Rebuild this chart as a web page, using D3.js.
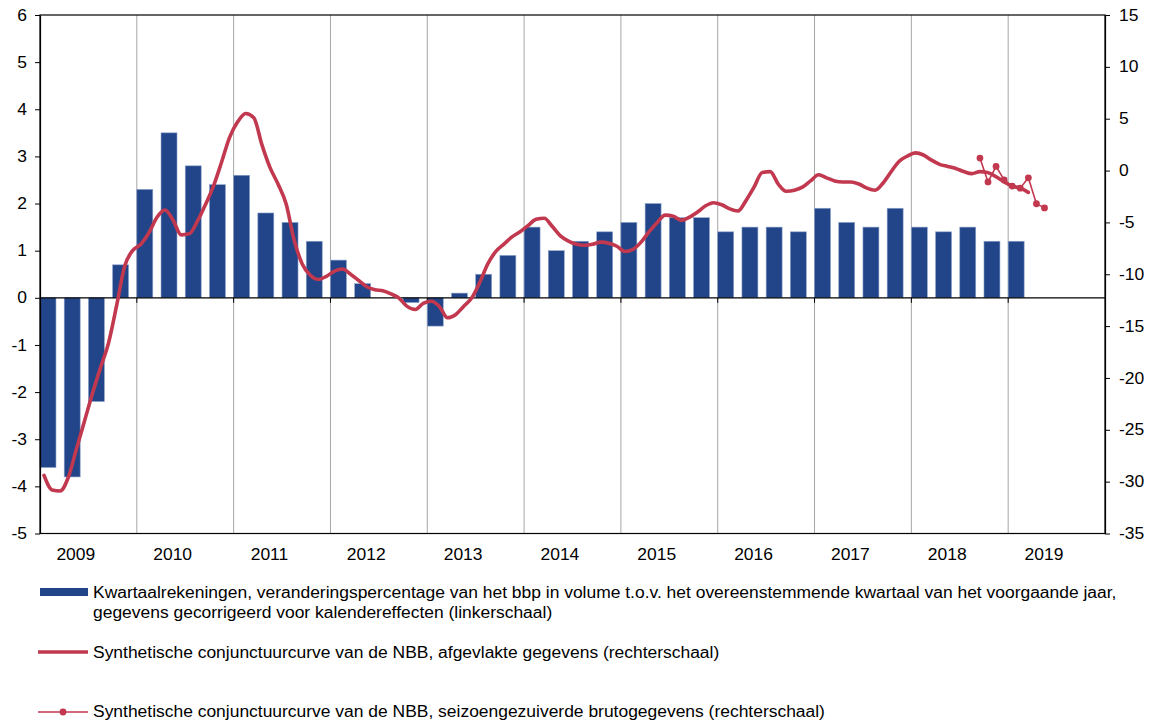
<!DOCTYPE html>
<html>
<head>
<meta charset="utf-8">
<script src="https://cdn.jsdelivr.net/npm/d3@7"></script>
<style>
  html, body { margin: 0; padding: 0; background: #fff; }
  svg { display: block; }
  text { font-family: "Liberation Sans", Arial, sans-serif; fill: #000; }
</style>
</head>
<body>
<svg id="chart" width="1154" height="724"></svg>
<script>
// ---------------- DATA ----------------
const years = [2009, 2010, 2011, 2012, 2013, 2014, 2015, 2016, 2017, 2018, 2019];

// Quarterly GDP growth (y-o-y, %), left axis, 2009Q1 .. 2019Q1
const quarters = [
  "2009Q1","2009Q2","2009Q3","2009Q4",
  "2010Q1","2010Q2","2010Q3","2010Q4",
  "2011Q1","2011Q2","2011Q3","2011Q4",
  "2012Q1","2012Q2","2012Q3","2012Q4",
  "2013Q1","2013Q2","2013Q3","2013Q4",
  "2014Q1","2014Q2","2014Q3","2014Q4",
  "2015Q1","2015Q2","2015Q3","2015Q4",
  "2016Q1","2016Q2","2016Q3","2016Q4",
  "2017Q1","2017Q2","2017Q3","2017Q4",
  "2018Q1","2018Q2","2018Q3","2018Q4",
  "2019Q1"
];
const gdpGrowth = [
  -3.6, -3.8, -2.2, 0.7,
   2.3,  3.5,  2.8, 2.4,
   2.6,  1.8,  1.6, 1.2,
   0.8,  0.3,  0.0, -0.1,
  -0.6,  0.1,  0.5, 0.9,
   1.5,  1.0,  1.2, 1.4,
   1.6,  2.0,  1.7, 1.7,
   1.4,  1.5,  1.5, 1.4,
   1.9,  1.6,  1.5, 1.9,
   1.5,  1.4,  1.5, 1.2,
   1.2
];

// NBB business barometer, smoothed, monthly 2009-01 .. 2019-03 (right axis)
const smoothStart = "2009-01";
const smoothed = [
  -29.4,-30.8,-30.9,-29.6,-26.9,-24.2,-21.5,-19.0,-16.6,-13.0,-9.2,-7.7,
  -7.1,-6.0,-4.5,-3.8,-4.8,-6.2,-6.1,-4.9,-3.3,-1.5,0.8,3.2,
  4.7,5.5,5.1,2.5,0.3,-1.3,-3.2,-6.7,-9.0,-10.1,-10.5,-10.2,
  -9.7,-9.5,-10.0,-10.6,-11.2,-11.5,-11.6,-11.9,-12.3,-13.1,-13.4,-12.8,
  -12.6,-13.1,-14.2,-13.9,-13.1,-12.3,-10.8,-9.0,-7.8,-7.1,-6.4,-5.9,
  -5.3,-4.7,-4.6,-5.4,-6.3,-6.8,-7.1,-7.2,-7.1,-6.9,-7.0,-7.3,
  -7.8,-7.6,-6.9,-5.9,-5.0,-4.3,-4.4,-4.8,-4.5,-4.0,-3.4,-3.1,
  -3.3,-3.7,-3.9,-2.9,-1.6,-0.2,-0.1,-1.3,-2.0,-1.9,-1.6,-1.0,
  -0.4,-0.7,-1.0,-1.1,-1.1,-1.3,-1.7,-1.9,-1.2,-0.1,0.9,1.4,
  1.7,1.5,1.0,0.6,0.4,0.2,-0.1,-0.3,-0.1,-0.2,-0.6,-1.1,
  -1.5,-1.7,-2.1
];

// NBB business barometer, seasonally adjusted raw data, monthly 2018-09 .. 2019-05
const rawStart = "2018-09";
const rawValues = [1.2, -1.1, 0.4, -0.9, -1.5, -1.7, -0.7, -3.2, -3.6];

const leftTicks = [-5,-4,-3,-2,-1,0,1,2,3,4,5,6];
const rightTicks = [-35,-30,-25,-20,-15,-10,-5,0,5,10,15];

const legendLabels = [
  ["Kwartaalrekeningen, veranderingspercentage van het bbp in volume t.o.v. het overeenstemmende kwartaal van het voorgaande jaar,",
   "gegevens gecorrigeerd voor kalendereffecten (linkerschaal)"],
  ["Synthetische conjunctuurcurve van de NBB, afgevlakte gegevens (rechterschaal)"],
  ["Synthetische conjunctuurcurve van de NBB, seizoengezuiverde brutogegevens (rechterschaal)"]
];

// ---------------- LAYOUT ----------------
const BLUE = "#22458a";
const RED = "#c1384f";
const GRID = "#a6a6a6";
const FONT = 16;
const STRETCH = 1.09; // glyphs in the reference are slightly wide
const plot = { left: 40, right: 1105, top: 15, bottom: 533.5 };

const svg = d3.select("#chart");

const x = d3.scaleLinear().domain([2009, 2020]).range([plot.left, plot.right]);
const yL = d3.scaleLinear().domain([-5, 6]).range([plot.bottom, plot.top]);
const yR = d3.scaleLinear().domain([-35, 15]).range([plot.bottom, plot.top]);

function monthTime(start, i) {
  const [yy, mm] = start.split("-").map(Number);
  const idx = (mm - 1) + i;
  return yy + (idx + 0.5) / 12;
}
function quarterTime(q) {
  return +q.slice(0, 4) + (+q.slice(5) - 1) / 4;
}

// vertical year gridlines
svg.append("g").selectAll("line")
  .data(years.slice(1))
  .join("line")
  .attr("x1", d => x(d)).attr("x2", d => x(d))
  .attr("y1", plot.top).attr("y2", plot.bottom)
  .attr("stroke", GRID).attr("stroke-width", 1);

// bars
const barW = (x(2009.25) - x(2009)) * 0.66;
svg.append("g").selectAll("rect")
  .data(quarters.map((q, i) => ({ q, v: gdpGrowth[i] })))
  .join("rect")
  .attr("x", d => x(quarterTime(d.q)))
  .attr("width", barW)
  .attr("y", d => yL(Math.max(0, d.v)))
  .attr("height", d => Math.abs(yL(d.v) - yL(0)))
  .attr("fill", BLUE)
  .attr("stroke", "#8fa3c9")
  .attr("stroke-width", 0.6);

// zero line with year ticks
svg.append("line")
  .attr("x1", plot.left).attr("x2", plot.right)
  .attr("y1", yL(0)).attr("y2", yL(0))
  .attr("stroke", "#000").attr("stroke-width", 1.2);
svg.append("g").selectAll("line")
  .data(years.slice(1))
  .join("line")
  .attr("x1", d => x(d)).attr("x2", d => x(d))
  .attr("y1", yL(0)).attr("y2", yL(0) + 5)
  .attr("stroke", "#000").attr("stroke-width", 1);

// plot frame
svg.append("rect")
  .attr("x", plot.left).attr("y", plot.top)
  .attr("width", plot.right - plot.left).attr("height", plot.bottom - plot.top)
  .attr("fill", "none").attr("stroke", "#000").attr("stroke-width", 1.2);

// smoothed line
const line = d3.line().x(d => x(d.t)).curve(d3.curveMonotoneX);
svg.append("path")
  .datum(smoothed.map((v, i) => ({ t: monthTime(smoothStart, i), v })))
  .attr("d", line.y(d => yR(d.v)))
  .attr("fill", "none").attr("stroke", RED).attr("stroke-width", 3.6)
  .attr("stroke-linejoin", "round").attr("stroke-linecap", "round");

// raw line with markers
const rawData = rawValues.map((v, i) => ({ t: monthTime(rawStart, i), v }));
svg.append("path")
  .datum(rawData)
  .attr("d", d3.line().x(d => x(d.t)).y(d => yR(d.v)))
  .attr("fill", "none").attr("stroke", RED).attr("stroke-width", 1.6);
svg.append("g").selectAll("circle")
  .data(rawData)
  .join("circle")
  .attr("cx", d => x(d.t)).attr("cy", d => yR(d.v))
  .attr("r", 3.4).attr("fill", RED);

// axes
const axL = svg.append("g").attr("transform", `translate(${plot.left},0)`)
  .call(d3.axisLeft(yL).tickValues(leftTicks).tickFormat(d3.format("d"))
    .tickSize(5).tickSizeOuter(0).tickPadding(8));
const axR = svg.append("g").attr("transform", `translate(${plot.right},0)`)
  .call(d3.axisRight(yR).tickValues(rightTicks).tickFormat(d3.format("d"))
    .tickSize(5).tickSizeOuter(0).tickPadding(9));
[axL, axR].forEach(g => {
  g.select(".domain").attr("stroke", "#000").attr("stroke-width", 1.2);
  g.selectAll(".tick line").attr("stroke", "#000");
  g.selectAll(".tick text").attr("font-size", FONT)
    .attr("font-family", '"Liberation Sans", Arial, sans-serif').attr("fill", "#000");
});
axL.selectAll(".tick text").text(d => d < 0 ? "-" + Math.abs(d) : d);
axR.selectAll(".tick text").text(d => d < 0 ? "-" + Math.abs(d) : d);

// year labels
svg.append("g").selectAll("text")
  .data(years)
  .join("text")
  .attr("x", d => x(d + 0.37))
  .attr("y", 560)
  .attr("text-anchor", "middle")
  .attr("font-size", FONT)
  .text(d => d);

// legend
const lg = svg.append("g");
lg.append("rect").attr("x", 40).attr("y", 588).attr("width", 48).attr("height", 8).attr("fill", BLUE);
lg.append("line").attr("x1", 38).attr("x2", 88).attr("y1", 652).attr("y2", 652)
  .attr("stroke", RED).attr("stroke-width", 3.6);
lg.append("line").attr("x1", 38).attr("x2", 88).attr("y1", 712).attr("y2", 712)
  .attr("stroke", RED).attr("stroke-width", 1.6);
lg.append("circle").attr("cx", 63).attr("cy", 712).attr("r", 3.4).attr("fill", RED);

const legendBaselines = [[598, 618], [658], [717]];
legendLabels.forEach((lines, i) => {
  lines.forEach((t, j) => {
    lg.append("text").attr("x", 93).attr("y", legendBaselines[i][j])
      .attr("font-size", FONT).text(t);
  });
});

// widen glyphs slightly to match the reference's text widths
svg.selectAll("text").each(function () {
  const w = this.getComputedTextLength();
  if (w > 0) {
    d3.select(this)
      .attr("textLength", w * STRETCH)
      .attr("lengthAdjust", "spacingAndGlyphs");
  }
});
</script>
</body>
</html>
